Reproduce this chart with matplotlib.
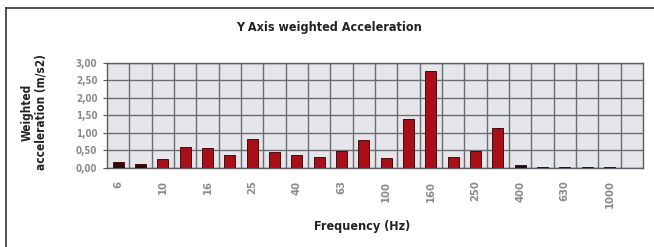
import matplotlib
matplotlib.use("Agg")
import matplotlib.pyplot as plt
from matplotlib.lines import Line2D
import numpy as np

plt.rcParams['font.family'] = ['DejaVu Sans']
plt.rcParams['font.stretch'] = 'condensed'

# 1/3 octave bands (Hz)
freqs = ["6", "8", "10", "12.5", "16", "20", "25", "31.5", "40", "50", "63", "80",
         "100", "125", "160", "200", "250", "315", "400", "500", "630", "800", "1000", "1250"]
accel = [0.16, 0.10, 0.26, 0.61, 0.56, 0.37, 0.82, 0.46, 0.38, 0.31, 0.49, 0.79,
         0.29, 1.41, 2.75, 0.31, 0.48, 1.15, 0.09, 0.04, 0.04, 0.04, 0.03, 0.0]
shown_labels = ["6", "10", "16", "25", "40", "63", "100", "160", "250", "400", "630", "1000"]
yticks = [0, 0.5, 1.0, 1.5, 2.0, 2.5, 3.0]

fig = plt.figure(figsize=(6.54, 2.47), dpi=100)
ax = fig.add_axes([107/654, 1-168/247, (643-107)/654, (168-62.7)/247])

x = np.arange(len(freqs))
cols = ["#a80f18" if v >= 0.2 else "#2a0c0c" for v in accel]
ax.bar(x, accel, width=0.5, color=cols, edgecolor="#4a080c", linewidth=0.7, zorder=3)

ax.set_facecolor("#e4e6ea")
ax.set_xlim(-0.5, len(freqs) - 0.5)
ax.set_ylim(0, 3.0)
ax.set_yticks(yticks)
ax.set_yticklabels([f"{v:.2f}".replace(".", ",") for v in yticks],
                   fontsize=7, color="#8a8a8a", fontweight="bold")
ax.set_xticks([i for i, f in enumerate(freqs) if f in shown_labels])
ax.set_xticklabels(shown_labels, rotation=90, fontsize=8, color="#8a8a8a",
                   fontweight="bold", va="top")
ax.set_xticks(np.arange(len(freqs) - 1) + 0.5, minor=True)
ax.tick_params(axis="x", which="both", length=0)
ax.tick_params(axis="y", length=3, color="#555555", pad=4)
ax.tick_params(axis="x", pad=9)

ax.grid(True, which="minor", axis="x", color="#6a6d73", linewidth=1.0, zorder=1)
ax.grid(True, which="major", axis="y", color="#6a6d73", linewidth=1.0, zorder=1)
ax.set_axisbelow(True)
for s in ax.spines.values():
    s.set_color("#5a5d63")
    s.set_linewidth(1.0)

fig.text(329/654, 1-27/247, "Y Axis weighted Acceleration", ha="center", va="center",
         fontsize=9, fontweight="bold", color="#222222")
fig.text(362/654, 1-226/247, "Frequency (Hz)", ha="center", va="center",
         fontsize=9, fontweight="bold", color="#222222")
fig.text(34/654, 1-112/247, "Weighted\nacceleration (m/s2)", ha="center", va="center",
         rotation=90, fontsize=8.5, fontweight="bold", color="#222222", linespacing=1.0)

# outer frame (top and left only)
fig.add_artist(Line2D([6/654, 1], [1-8.5/247, 1-8.5/247], color="#333333", linewidth=1.2))
fig.add_artist(Line2D([6/654, 6/654], [0, 1-8.5/247], color="#333333", linewidth=1.2))

fig.savefig("out.png", dpi=100)
